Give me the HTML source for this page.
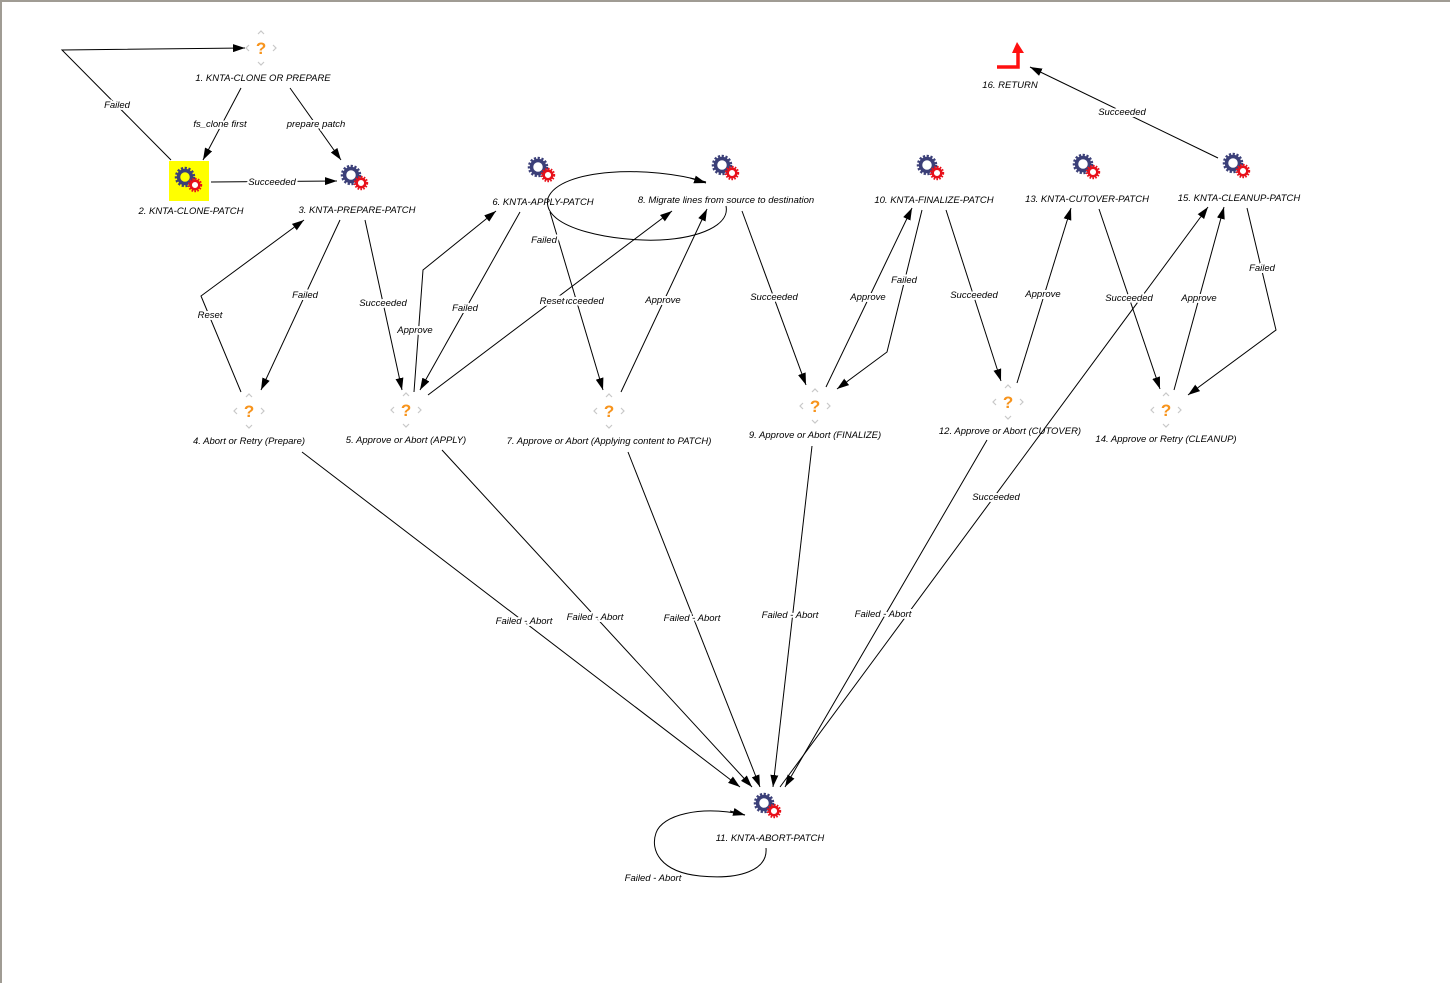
<!DOCTYPE html>
<html><head><meta charset="utf-8"><style>
html,body{margin:0;padding:0;background:#fff}
svg{display:block}
text{font-family:"Liberation Sans",sans-serif;font-size:9.5px;font-style:italic;fill:#000}
.lb{paint-order:stroke;stroke:#fff;stroke-width:4px;stroke-linejoin:round}
.e{stroke:#000;stroke-width:1;fill:none}
</style></head><body>
<svg width="1450" height="983" viewBox="0 0 1450 983" xmlns="http://www.w3.org/2000/svg">
<defs>
<marker id="a" viewBox="0 0 12 8" refX="12" refY="4" markerWidth="12" markerHeight="8" markerUnits="userSpaceOnUse" orient="auto"><path d="M0,0L12,4L0,8z" fill="#000"/></marker>
<g id="gear">
<circle cx="-3" cy="-3" r="6.5" fill="none" stroke="#3b3f78" stroke-width="3.5"/>
<circle cx="-3" cy="-3" r="9" fill="none" stroke="#3b3f78" stroke-width="2.5" stroke-dasharray="2.2 1.6"/>
<circle cx="7" cy="5" r="4.3" fill="#fff" stroke="#e8101a" stroke-width="2.5"/>
<circle cx="7" cy="5" r="6.2" fill="none" stroke="#e8101a" stroke-width="2" stroke-dasharray="1.6 1.3"/>
</g>
<g id="q">
<polyline points="-3,-14 0,-17 3,-14" fill="none" stroke="#c8c8c8" stroke-width="1.2"/>
<polyline points="-3,14 0,17 3,14" fill="none" stroke="#c8c8c8" stroke-width="1.2"/>
<polyline points="-12,-3 -15,0 -12,3" fill="none" stroke="#c8c8c8" stroke-width="1.2"/>
<polyline points="12,-3 15,0 12,3" fill="none" stroke="#c8c8c8" stroke-width="1.2"/>
<text x="0" y="6" text-anchor="middle" style="font-size:17px;font-weight:bold;font-style:normal;fill:#f7941d">?</text>
</g>
</defs>
<rect x="0" y="0" width="1450" height="2" fill="#a09c94"/>
<rect x="0" y="0" width="2" height="983" fill="#a09c94"/>

<!-- edges -->
<polyline class="e" points="171,160 62,50 245,48" marker-end="url(#a)"/>
<line class="e" x1="241" y1="88" x2="203" y2="160" marker-end="url(#a)"/>
<line class="e" x1="290" y1="88" x2="341" y2="160" marker-end="url(#a)"/>
<line class="e" x1="211" y1="182" x2="337" y2="181" marker-end="url(#a)"/>
<line class="e" x1="340" y1="220" x2="261" y2="390" marker-end="url(#a)"/>
<polyline class="e" points="241,392 201,296 304,220" marker-end="url(#a)"/>
<line class="e" x1="365" y1="220" x2="402" y2="390" marker-end="url(#a)"/>
<polyline class="e" points="414,392 423,270 496,211" marker-end="url(#a)"/>
<line class="e" x1="520" y1="212" x2="420" y2="390" marker-end="url(#a)"/>
<line class="e" x1="428" y1="395" x2="672" y2="211" marker-end="url(#a)"/>
<line class="e" x1="550" y1="212" x2="603" y2="390" marker-end="url(#a)"/>
<path class="e" d="M706,182 C650,165 560,168 548,198 C540,230 620,242 660,240 C700,238 730,225 726,206"/>
<line class="e" x1="690" y1="178" x2="706" y2="183" marker-end="url(#a)"/>
<line class="e" x1="621" y1="392" x2="707" y2="209" marker-end="url(#a)"/>
<line class="e" x1="742" y1="211" x2="806" y2="385" marker-end="url(#a)"/>
<line class="e" x1="826" y1="387" x2="912" y2="208" marker-end="url(#a)"/>
<polyline class="e" points="922,210 887,352 837,389" marker-end="url(#a)"/>
<line class="e" x1="946" y1="210" x2="1001" y2="381" marker-end="url(#a)"/>
<line class="e" x1="1017" y1="383" x2="1071" y2="208" marker-end="url(#a)"/>
<line class="e" x1="1099" y1="209" x2="1160" y2="389" marker-end="url(#a)"/>
<line class="e" x1="1174" y1="390" x2="1224" y2="207" marker-end="url(#a)"/>
<polyline class="e" points="1247,208 1276,330 1188,395" marker-end="url(#a)"/>
<line class="e" x1="1218" y1="158" x2="1030" y2="67" marker-end="url(#a)"/>
<line class="e" x1="302" y1="452" x2="740" y2="787" marker-end="url(#a)"/>
<line class="e" x1="442" y1="450" x2="752" y2="787" marker-end="url(#a)"/>
<line class="e" x1="628" y1="452" x2="760" y2="787" marker-end="url(#a)"/>
<line class="e" x1="812" y1="446" x2="773" y2="787" marker-end="url(#a)"/>
<line class="e" x1="987" y1="440" x2="785" y2="787" marker-end="url(#a)"/>
<line class="e" x1="780" y1="787" x2="1208" y2="207" marker-end="url(#a)"/>
<path class="e" d="M766,848 C768,870 740,880 700,876 C660,872 650,850 656,833 C662,815 700,805 745,815"/>
<line class="e" x1="730" y1="811" x2="745" y2="815" marker-end="url(#a)"/>

<!-- edge labels -->
<text class="lb" x="117" y="108" text-anchor="middle">Failed</text>
<text class="lb" x="220" y="127" text-anchor="middle">fs_clone first</text>
<text class="lb" x="316" y="127" text-anchor="middle">prepare patch</text>
<text class="lb" x="272" y="185" text-anchor="middle">Succeeded</text>
<text class="lb" x="305" y="298" text-anchor="middle">Failed</text>
<text class="lb" x="210" y="318" text-anchor="middle">Reset</text>
<text class="lb" x="383" y="306" text-anchor="middle">Succeeded</text>
<text class="lb" x="415" y="333" text-anchor="middle">Approve</text>
<text class="lb" x="465" y="311" text-anchor="middle">Failed</text>
<text class="lb" x="580" y="304" text-anchor="middle">Succeeded</text>
<text class="lb" x="552" y="304" text-anchor="middle">Reset</text>
<text class="lb" x="544" y="243" text-anchor="middle">Failed</text>
<text class="lb" x="663" y="303" text-anchor="middle">Approve</text>
<text class="lb" x="774" y="300" text-anchor="middle">Succeeded</text>
<text class="lb" x="868" y="300" text-anchor="middle">Approve</text>
<text class="lb" x="904" y="283" text-anchor="middle">Failed</text>
<text class="lb" x="974" y="298" text-anchor="middle">Succeeded</text>
<text class="lb" x="1043" y="297" text-anchor="middle">Approve</text>
<text class="lb" x="1129" y="301" text-anchor="middle">Succeeded</text>
<text class="lb" x="1199" y="301" text-anchor="middle">Approve</text>
<text class="lb" x="1262" y="271" text-anchor="middle">Failed</text>
<text class="lb" x="1122" y="115" text-anchor="middle">Succeeded</text>
<text class="lb" x="524" y="624" text-anchor="middle">Failed - Abort</text>
<text class="lb" x="595" y="620" text-anchor="middle">Failed - Abort</text>
<text class="lb" x="692" y="621" text-anchor="middle">Failed - Abort</text>
<text class="lb" x="790" y="618" text-anchor="middle">Failed - Abort</text>
<text class="lb" x="883" y="617" text-anchor="middle">Failed - Abort</text>
<text class="lb" x="996" y="500" text-anchor="middle">Succeeded</text>
<text class="lb" x="653" y="881" text-anchor="middle">Failed - Abort</text>

<!-- nodes -->
<use href="#q" x="261" y="48"/>
<text class="lb" x="263" y="81" text-anchor="middle">1. KNTA-CLONE OR PREPARE</text>
<rect x="169" y="161" width="40" height="40" fill="#ffff00"/>
<use href="#gear" x="188" y="180"/>
<text class="lb" x="191" y="214" text-anchor="middle">2. KNTA-CLONE-PATCH</text>
<use href="#gear" x="354" y="178"/>
<text class="lb" x="357" y="213" text-anchor="middle">3. KNTA-PREPARE-PATCH</text>
<use href="#q" x="249" y="411"/>
<text class="lb" x="249" y="444" text-anchor="middle">4. Abort or Retry (Prepare)</text>
<use href="#q" x="406" y="410"/>
<text class="lb" x="406" y="443" text-anchor="middle">5. Approve or Abort (APPLY)</text>
<use href="#gear" x="541" y="170"/>
<text x="543" y="205" text-anchor="middle">6. KNTA-APPLY-PATCH</text>
<use href="#q" x="609" y="411"/>
<text class="lb" x="609" y="444" text-anchor="middle">7. Approve or Abort (Applying content to PATCH)</text>
<use href="#gear" x="725" y="168"/>
<text x="726" y="203" text-anchor="middle">8. Migrate lines from source to destination</text>
<use href="#q" x="815" y="406"/>
<text class="lb" x="815" y="438" text-anchor="middle">9. Approve or Abort (FINALIZE)</text>
<use href="#gear" x="930" y="168"/>
<text class="lb" x="934" y="203" text-anchor="middle">10. KNTA-FINALIZE-PATCH</text>
<use href="#gear" x="767" y="806"/>
<text class="lb" x="770" y="841" text-anchor="middle">11. KNTA-ABORT-PATCH</text>
<use href="#q" x="1008" y="402"/>
<text x="1010" y="434" text-anchor="middle">12. Approve or Abort (CUTOVER)</text>
<use href="#gear" x="1086" y="167"/>
<text class="lb" x="1087" y="202" text-anchor="middle">13. KNTA-CUTOVER-PATCH</text>
<use href="#q" x="1166" y="410"/>
<text class="lb" x="1166" y="442" text-anchor="middle">14. Approve or Retry (CLEANUP)</text>
<use href="#gear" x="1236" y="166"/>
<text x="1239" y="201" text-anchor="middle">15. KNTA-CLEANUP-PATCH</text>
<path d="M997,67 L1018,67 L1018,52" fill="none" stroke="#ff1010" stroke-width="3.5"/>
<path d="M1012,53 L1024,53 L1017,42 z" fill="#ff1010"/>
<text class="lb" x="1010" y="88" text-anchor="middle">16. RETURN</text>
</svg>
</body></html>
